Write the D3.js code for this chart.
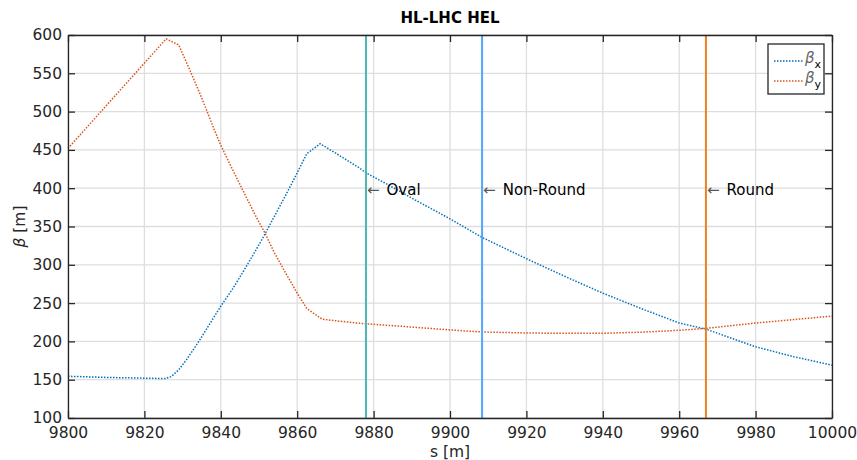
<!DOCTYPE html>
<html>
<head>
<meta charset="utf-8">
<script src="https://cdn.jsdelivr.net/npm/d3@7"></script>
<style>
  body { margin: 0; background: #fff; }
  svg { font-family: "DejaVu Sans", sans-serif; }
</style>
</head>
<body>
<svg id="chart"></svg>
<script>
// beta functions
const sX = [9800, 9810, 9820, 9825.5, 9827, 9829, 9831, 9834, 9837, 9840, 9843, 9845, 9848, 9851, 9854, 9857, 9860, 9862.5, 9866,
            9870, 9876.4, 9878, 9884, 9890, 9900, 9908.3, 9920, 9930, 9940, 9950, 9960, 9967, 9980, 9990, 10000];
const betaX = [154.5, 153, 152, 151.5, 154, 163, 176, 198, 222, 246, 268, 284, 309, 335, 363, 391, 420, 445, 458,
               446, 426, 420, 404, 387, 360, 336, 308, 285, 263, 243, 224, 216, 193, 180, 169];
const sY = [9800, 9825.7, 9829, 9832, 9835, 9838, 9840, 9843, 9846, 9849, 9851.6, 9854, 9857, 9860, 9862.5, 9866.5,
            9870, 9876.4, 9886.5, 9900, 9908.3, 9920, 9930, 9940, 9950, 9960, 9967, 9980, 9990, 10000];
const betaY = [452, 595, 587, 553, 518, 480, 456, 425, 395, 365, 341, 316, 289, 263, 243, 229,
               227, 223.6, 220, 215, 212.3, 211, 210.5, 210.6, 212, 214.5, 217, 224, 228.5, 233];

const markerNames = ["Oval", "Non-Round", "Round"];
const markerPos = [9878, 9908.4, 9967];
const markerColors = ["#4bb5b5", "#4da6ff", "#ee8020"];
const markerLabelBeta = 400;

const xTicks = d3.range(9800, 10001, 20);
const yTicks = d3.range(100, 601, 50);

const W = 857, H = 460;
const margin = {left: 68, right: 25, top: 35, bottom: 42};
const iw = W - margin.left - margin.right;
const ih = H - margin.top - margin.bottom;

const svg = d3.select("#chart").attr("width", W).attr("height", H);
const g = svg.append("g").attr("transform", "translate(" + margin.left + "," + margin.top + ")");

const x = d3.scaleLinear().domain([9800, 10000]).range([0, iw]);
const y = d3.scaleLinear().domain([100, 600]).range([ih, 0]);

// grid
g.append("g").selectAll("line").data(xTicks).enter().append("line")
  .attr("x1", d => x(d)).attr("x2", d => x(d)).attr("y1", 0).attr("y2", ih)
  .attr("stroke", "#dedede").attr("stroke-width", 1.3);
g.append("g").selectAll("line").data(yTicks).enter().append("line")
  .attr("y1", d => y(d)).attr("y2", d => y(d)).attr("x1", 0).attr("x2", iw)
  .attr("stroke", "#dedede").attr("stroke-width", 1.3);

// beta curves
const lineX = d3.line().x((d, i) => x(sX[i])).y(d => y(d));
const lineY = d3.line().x((d, i) => x(sY[i])).y(d => y(d));

g.append("path").datum(betaX).attr("d", lineX)
  .attr("fill", "none").attr("stroke", "#0072BD").attr("stroke-width", 1.5)
  .attr("stroke-dasharray", "1.5,1.5");
g.append("path").datum(betaY).attr("d", lineY)
  .attr("fill", "none").attr("stroke", "#D95319").attr("stroke-width", 1.5)
  .attr("stroke-dasharray", "1.5,1.5");

// marker lines
g.append("g").selectAll("line").data(markerPos).enter().append("line")
  .attr("x1", d => x(d)).attr("x2", d => x(d)).attr("y1", 0).attr("y2", ih)
  .attr("stroke", (d, i) => markerColors[i]).attr("stroke-width", 2);

const labels = g.append("g").selectAll("text").data(markerNames).enter().append("text")
  .attr("x", (d, i) => x(markerPos[i]) + 1)
  .attr("y", y(markerLabelBeta))
  .attr("dy", "0.45em")
  .attr("font-size", 15)
  .attr("fill", "#000");
labels.append("tspan").attr("fill", "#555").text("\u2190");
labels.append("tspan").attr("dx", 7).text(d => d);

// axes with inward ticks on all sides
const axisStyle = sel => {
  sel.select(".domain").attr("stroke", "#262626").attr("stroke-width", 1.3);
  sel.selectAll(".tick line").attr("stroke", "#262626").attr("stroke-width", 1.3);
  sel.selectAll("text").attr("font-family", "DejaVu Sans").attr("font-size", 15.5).attr("fill", "#262626");
};
g.append("g").attr("transform", "translate(0," + ih + ")")
  .call(d3.axisBottom(x).tickValues(xTicks).tickSizeInner(-7).tickSizeOuter(0).tickPadding(9).tickFormat(d3.format("d")))
  .call(axisStyle);
g.append("g")
  .call(d3.axisTop(x).tickValues(xTicks).tickSizeInner(-7).tickSizeOuter(0).tickFormat(""))
  .call(axisStyle);
g.append("g")
  .call(d3.axisLeft(y).tickValues(yTicks).tickSizeInner(-7).tickSizeOuter(0).tickPadding(6))
  .call(axisStyle);
g.append("g").attr("transform", "translate(" + iw + ",0)")
  .call(d3.axisRight(y).tickValues(yTicks).tickSizeInner(-7).tickSizeOuter(0).tickFormat(""))
  .call(axisStyle);

// title and labels
svg.append("text")
  .attr("x", margin.left + iw / 2).attr("y", 23)
  .attr("text-anchor", "middle").attr("font-weight", "bold").attr("font-size", 15)
  .attr("fill", "#000").text("HL-LHC HEL");

svg.append("text")
  .attr("x", margin.left + iw / 2).attr("y", 457)
  .attr("text-anchor", "middle").attr("font-size", 15.5).attr("fill", "#262626")
  .text("s [m]");

svg.append("text")
  .attr("transform", "translate(25," + (margin.top + ih / 2) + ") rotate(-90)")
  .attr("text-anchor", "middle").attr("font-size", 15.5).attr("fill", "#262626")
  .html('<tspan font-style="italic">\u03B2</tspan> [m]');

// legend
const leg = svg.append("g").attr("transform", "translate(768,44)");
leg.append("rect").attr("width", 56).attr("height", 50)
  .attr("fill", "#fff").attr("stroke", "#262626").attr("stroke-width", 1.3);
const legItems = [["x", "#0072BD"], ["y", "#D95319"]];
legItems.forEach((it, i) => {
  const cy = 17 + i * 20;
  leg.append("line").attr("x1", 6).attr("x2", 35).attr("y1", cy).attr("y2", cy)
    .attr("stroke", it[1]).attr("stroke-width", 1.5).attr("stroke-dasharray", "1.5,1.5");
  const t = leg.append("text").attr("x", 37).attr("y", cy + 2).attr("font-size", 15).attr("fill", "#666");
  t.append("tspan").attr("font-style", "italic").text("\u03B2");
  t.append("tspan").attr("dy", 5).attr("font-size", 11).attr("fill", "#000").text(it[0]);
});
</script>
</body>
</html>
